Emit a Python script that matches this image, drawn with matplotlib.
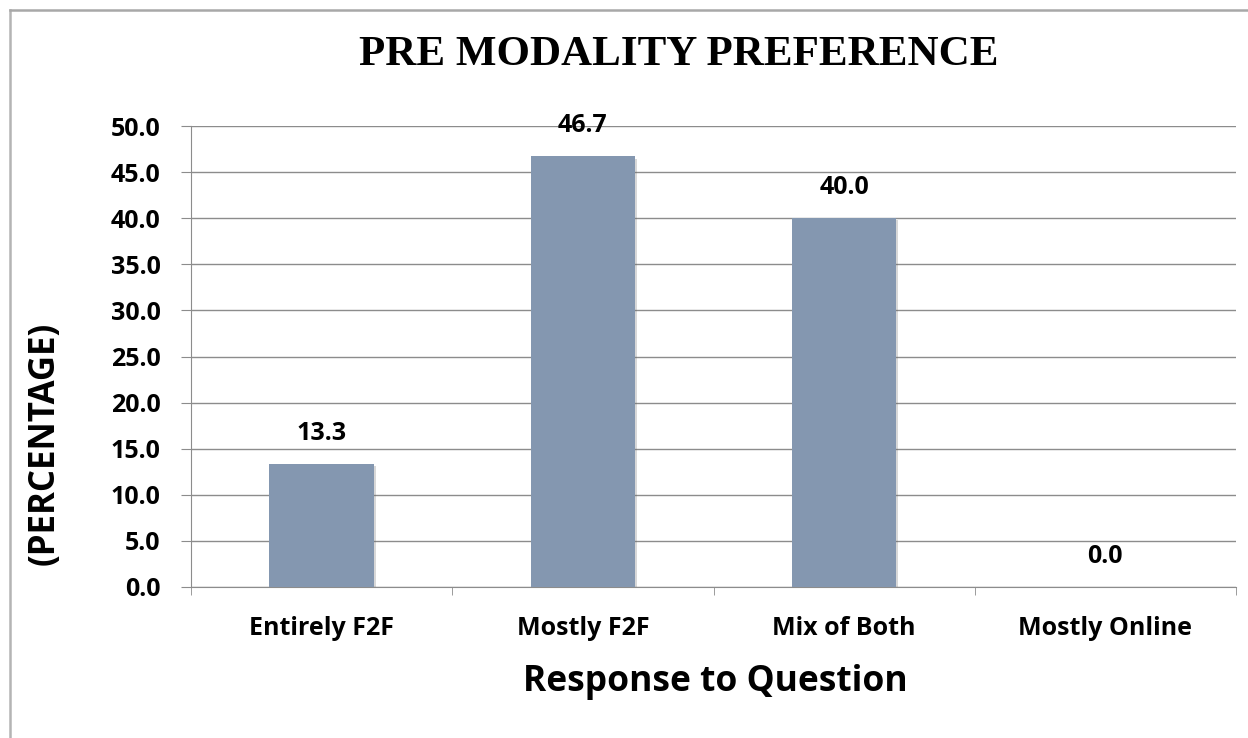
import matplotlib.pyplot as plt
import matplotlib.patheffects as pe
from matplotlib.lines import Line2D
import numpy as np

# chart data
categories = ['Entirely F2F', 'Mostly F2F', 'Mix of Both', 'Mostly Online']
percentages = [13.3, 46.7, 40.0, 0.0]
y_ticks = [0, 5, 10, 15, 20, 25, 30, 35, 40, 45, 50]

sans = ['Open Sans', 'DejaVu Sans']
bar_color = '#8497b0'
grid_color = '#8c8c8c'

fig = plt.figure(figsize=(12.48, 7.38), dpi=100)
ax = fig.add_axes([191 / 1248, 1 - 587 / 738, (1236 - 191) / 1248, (587 - 126) / 738])

x = np.arange(len(categories))
bars = ax.bar(x, percentages, width=0.4, color=bar_color, zorder=3)
for b in bars:
    b.set_path_effects([pe.SimplePatchShadow(offset=(1.5, -1.5), shadow_rgbFace='#666666', alpha=0.25),
                        pe.Normal()])

# value labels above bars
for xi, v in zip(x, percentages):
    ax.annotate(f'{v:.1f}', (xi, v), xytext=(0, 22), textcoords='offset points',
                ha='center', va='center', fontsize=18, fontweight='bold', family=sans)

ax.set_xlim(-0.5, len(categories) - 0.5)
ax.set_ylim(0, 50)
ax.set_yticks(y_ticks)
ax.set_yticklabels([f'{t:.1f}' for t in y_ticks], fontsize=18, fontweight='bold', family=sans)
ax.yaxis.grid(True, color=grid_color, linewidth=1.0, zorder=0)
ax.tick_params(axis='y', length=7, color=grid_color, pad=15)

# category labels at centres, tick marks at boundaries
ax.set_xticks(x)
ax.set_xticklabels(categories, fontsize=18, fontweight='bold', family=sans)
ax.tick_params(axis='x', which='major', length=0, pad=21)
ax.set_xticks(np.arange(len(categories) + 1) - 0.5, minor=True)
ax.tick_params(axis='x', which='minor', length=6, color=grid_color)

for s in ['top', 'right']:
    ax.spines[s].set_visible(False)
ax.spines['left'].set_color(grid_color)
ax.spines['bottom'].set_color(grid_color)

fig.text(679 / 1248, 1 - 55 / 738, 'PRE MODALITY PREFERENCE', ha='center', va='center',
         fontsize=31, fontweight='bold', family='Liberation Serif')
fig.text(715 / 1248, 1 - 682 / 738, 'Response to Question', ha='center', va='center',
         fontsize=25.5, fontweight='bold', family=sans)
fig.text(45 / 1248, 1 - 443 / 738, '(PERCENTAGE)', ha='center', va='center', rotation=90,
         fontsize=25, fontweight='bold', family=sans)

# chart frame (top and left edges visible)
fig.add_artist(Line2D([10 / 1248, 10 / 1248], [0, 1 - 10 / 738], color='#b4b4b4', linewidth=1.8))
fig.add_artist(Line2D([10 / 1248, 1], [1 - 10 / 738, 1 - 10 / 738], color='#a8a8a8', linewidth=1.8))

fig.savefig('out.png', dpi=100, facecolor='white')
